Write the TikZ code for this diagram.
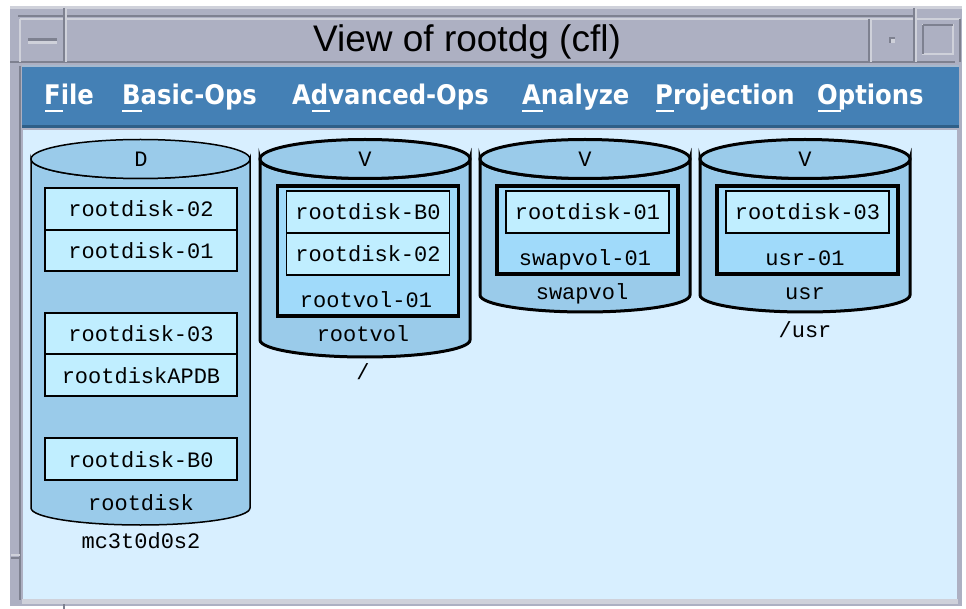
\documentclass[tikz,border=0pt]{standalone}
\usepackage{fontspec}
\setmainfont{Liberation Sans}
\newfontfamily\monof{Liberation Mono}
\newfontfamily\menuf{DejaVu Sans Condensed}
\definecolor{cyl}{HTML}{9ACBEA}
\definecolor{sub}{HTML}{C0EEFF}
\definecolor{vol}{HTML}{A0DAFA}
\definecolor{canv}{HTML}{D8EFFF}
\definecolor{menub}{HTML}{4480B5}
\definecolor{menud}{HTML}{2F5F88}
\definecolor{frm}{HTML}{ADB0C2}
\definecolor{frml}{HTML}{CFD1DA}
\definecolor{frmd}{HTML}{7E8190}
\newcommand{\lblfont}{\monof\fontsize{22}{22}\selectfont}
\tikzset{
  x=1pt,y=-1pt,
  lbl/.style={font=\lblfont,text=black,inner sep=0pt,anchor=center,text height=15pt,text depth=0pt},
  subbox/.style={draw=black,line width=1.6pt,fill=sub,inner sep=0pt,font=\lblfont,text=black,text height=16pt,text depth=0pt},
  volbox/.style={draw=black,line width=3.4pt,fill=vol,inner sep=0pt},
  menuit/.style={font=\menuf\bfseries\fontsize{27}{27}\selectfont,text=white,inner sep=0pt,anchor=base west},
  ul/.style={white,line width=1.6pt},
  ridge/.style={frmd,line width=1.2pt},
  ridgel/.style={frml,line width=1.2pt}
}
% #1 left, #2 right, #3 side-end y, #4 line width
\newcommand{\drumbody}[4]{%
  \pgfmathsetmacro{\cx}{(#1+#2)/2}\pgfmathsetmacro{\rx}{(#2-#1)/2}
  \draw[fill=cyl,draw=black,line width=#4] (#1,159) -- (#1,#3) arc[start angle=180,end angle=360,x radius=\rx,y radius=-17] -- (#2,159) arc[start angle=0,end angle=180,x radius=\rx,y radius=19.5] -- cycle;
  \draw[fill=cyl,draw=black,line width=#4] (\cx,159) ellipse[x radius=\rx,y radius=19.5];
}
\begin{document}
\begin{tikzpicture}
\useasboundingbox (0,0) rectangle (966,609);
\fill[white] (0,0) rectangle (966,609);
% window frame
\fill[frm] (10,6) rectangle (962,606);
\fill[frml] (10,6) rectangle (962,9);
\fill[frml] (22,599) rectangle (958,604);
\fill[canv] (23,130) rectangle (957,599);
\fill[menub] (22,66) rectangle (959,125);
\fill[menud] (22,125) rectangle (959,128);
\fill[frml!70!menub] (22,65) rectangle (959,67);
\draw[ridge] (18,16) -- (914,16);
\draw[ridgel] (20,19) -- (960,19);
\draw[ridge] (20,62) -- (955,62);
\draw[ridge] (10,62) -- (20,62);
\draw[ridgel] (20,19) -- (20,62);
\draw[ridge] (64,8) -- (64,62);
\draw[ridgel] (66,8) -- (66,62);
\draw[ridge] (869,19) -- (869,62);
\draw[ridgel] (871,19) -- (871,62);
\draw[ridge] (914,8) -- (914,62);
\draw[ridgel] (916,8) -- (916,62);
\draw[ridge] (960,19) -- (960,62);
\draw[ridge] (20,66) -- (20,600);
\draw[ridgel] (11,555) -- (20,555);
\draw[ridge] (11,558) -- (20,558);
\draw[ridge] (64,604) -- (64,609);
% window buttons
\fill[frmd] (28,38) rectangle (57,41);
\fill[frml] (28,41) rectangle (57,44);
\draw[ridgel] (923,25) rectangle (953,54);
\draw[ridge] (923,25) -- (953,25) (923,25) -- (923,54);
\fill[frmd] (889,37) rectangle (895,43);
\fill[frml] (891,39) rectangle (895,43);
\node[font=\fontsize{37}{37}\selectfont,text=black,inner sep=0pt,anchor=base] (title) at (467,52) {View of rootdg (cfl)};
% menu
\node[menuit] (mfile) at (44,104.5) {File};
\node[menuit] (mbasic) at (122,104.5) {Basic-Ops};
\node[menuit] (madv) at (292,104.5) {Advanced-Ops};
\node[menuit] (manal) at (522,104.5) {Analyze};
\node[menuit] (mproj) at (655,104.5) {Projection};
\node[menuit] (mopt) at (817,104.5) {Options};
\draw[ul] (45,111) -- (63,111);
\draw[ul] (122,111) -- (142,111);
\draw[ul] (312,111) -- (330,111);
\draw[ul] (522,111) -- (543,111);
\draw[ul] (656,111) -- (674,111);
\draw[ul] (818,111) -- (841,111);
% disk
\drumbody{31}{250}{508}{1.5pt}
\node[lbl] (dD) at (141,159) {D};
\node[subbox,minimum width=192pt,minimum height=42pt] (d1) at (141,209) {rootdisk-02};
\node[subbox,minimum width=192pt,minimum height=41pt] (d2) at (141,250.5) {rootdisk-01};
\node[subbox,minimum width=192pt,minimum height=41pt] (d3) at (141,333.5) {rootdisk-03};
\node[subbox,minimum width=192pt,minimum height=42pt] (d4) at (141,375) {rootdiskAPDB};
\node[subbox,minimum width=192pt,minimum height=42pt] (d5) at (141,459) {rootdisk-B0};
\node[lbl] (dn) at (141,503) {rootdisk};
\node[lbl] (dp) at (141,541) {mc3t0d0s2};
% volume 1
\drumbody{260}{470}{340}{3pt}
\node[lbl] (v1h) at (365,159) {V};
\node[volbox,minimum width=181pt,minimum height=130pt] (v1p) at (368,251) {};
\node[subbox,minimum width=163pt,minimum height=42pt] (v1a) at (368,212) {rootdisk-B0};
\node[subbox,minimum width=163pt,minimum height=42pt] (v1b) at (368,254) {rootdisk-02};
\node[lbl] (v1pn) at (366,300) {rootvol-01};
\node[lbl] (v1n) at (363,334) {rootvol};
\node[lbl] (v1m) at (363,372) {/};
% volume 2
\drumbody{480}{690}{295}{3pt}
\node[lbl] (v2h) at (585,159) {V};
\node[volbox,minimum width=181pt,minimum height=88pt] (v2p) at (587.5,230) {};
\node[subbox,minimum width=163pt,minimum height=42pt] (v2a) at (587.5,212) {rootdisk-01};
\node[lbl] (v2pn) at (585,258) {swapvol-01};
\node[lbl] (v2n) at (582,292) {swapvol};
% volume 3
\drumbody{700}{910}{295}{3pt}
\node[lbl] (v3h) at (805,159) {V};
\node[volbox,minimum width=181pt,minimum height=88pt] (v3p) at (807.5,230) {};
\node[subbox,minimum width=163pt,minimum height=42pt] (v3a) at (807.5,212) {rootdisk-03};
\node[lbl] (v3pn) at (805,258) {usr-01};
\node[lbl] (v3n) at (805,292) {usr};
\node[lbl] (v3m) at (805,330) {/usr};
\end{tikzpicture}
\end{document}
